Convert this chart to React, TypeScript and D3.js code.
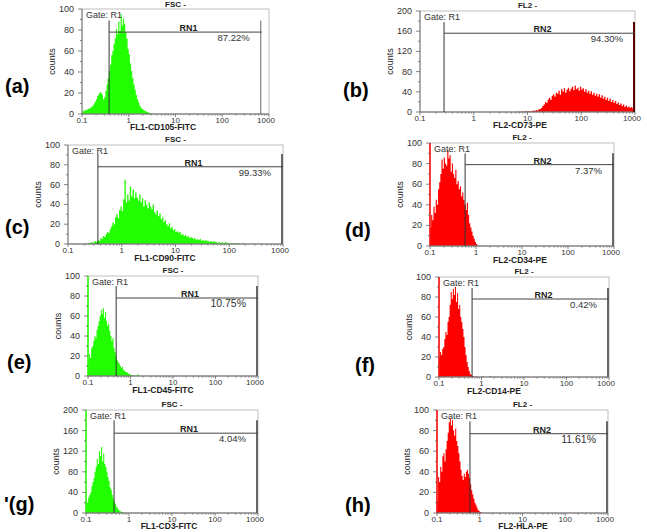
import React, { useEffect, useRef } from "react";
import * as d3 from "d3";

// panel data, order a..h
const panelTags = ["(a)", "(b)", "(c)", "(d)", "(e)", "(f)", "'(g)", "(h)"];
const channelTitles = ["FSC  -", "FL2  -", "FSC  -", "FL2  -", "FSC  -", "FL2  -", "FSC  -", "FL2  -"];
const markerLabels = [
  "FL1-CD105-FITC",
  "FL2-CD73-PE",
  "FL1-CD90-FITC",
  "FL2-CD34-PE",
  "FL1-CD45-FITC",
  "FL2-CD14-PE",
  "FL1-CD3-FITC",
  "FL2-HLA-PE",
];
const regionNames = ["RN1", "RN2", "RN1", "RN2", "RN1", "RN2", "RN1", "RN2"];
const percentLabels = ["87.22%", "94.30%", "99.33%", "7.37%", "10.75%", "0.42%", "4.04%", "11.61%"];
const yMaxes = [100, 200, 100, 100, 100, 100, 200, 100];
const gateLow = [0.38, 0.28, 0.36, 0.58, 0.46, 0.6, 0.45, 0.59];
const gateHigh = [700, 1000, 1000, 1000, 1000, 1000, 1000, 1000];
const gateLineY = [78, 156, 78, 79, 78, 78, 155, 77];
const gateTopY = [89, 178, 91, 90, 90, 89, 180, 89];
const xTicks = [0.1, 1, 10, 100, 1000];
const xTickLabels = ["0.1", "1", "10", "100", "1000"];

// histogram counts, bins of 1/40 decade starting at binStart (log10)
const binStart = [-1.0, 0.8, -0.7, -1.0, -1.0, -1.0, -1.0, -1.0];
const countsA = [
  2, 3, 3, 4, 4, 5, 5, 6, 7, 8,
  10, 12, 14, 17, 19, 21, 20, 18,
  14, 16, 22, 28,
  34, 41, 47, 56, 60, 67,
  72, 81, 76, 88, 79, 95, 84, 91,
  86, 78, 72, 62, 57, 48, 41, 34,
  28, 23, 18, 14, 11, 8, 6, 5,
  4, 3, 3, 2, 2, 1, 1, 1, 0, 1, 0, 0,
];
const countsB = [
  0, 1, 0, 1, 1, 0, 2, 1,
  1, 2, 1, 2, 3, 2, 4, 3, 5, 6,
  8, 12, 15, 20, 18, 25, 28, 24, 32, 35,
  30, 38, 36, 42, 34, 45, 40, 47, 38, 44,
  48, 41, 46, 50, 43, 52, 45, 48, 42, 50,
  44, 47, 40, 45, 38, 42, 36, 41, 34, 38,
  32, 36, 30, 35, 28, 33, 26, 30, 24, 28,
  22, 26, 20, 24, 18, 22, 16, 19, 14, 17,
  12, 15, 10, 13, 9, 11, 8, 10, 7, 6,
];
const countsC = [
  0, 1, 0, 1, 1, 2, 1, 2, 3, 2,
  4, 3, 6, 5, 8, 7, 10, 12, 11, 15,
  18, 22, 20, 27, 30, 26, 34, 38, 33, 45,
  65, 42, 50, 44, 58, 48, 55, 46, 52, 47,
  44, 50, 42, 46, 38, 44, 40, 36, 42, 38,
  35, 40, 32, 30, 34, 28, 31, 25, 27, 22,
  24, 20, 18, 21, 16, 17, 14, 15, 12, 13,
  11, 12, 9, 10, 8, 9, 7, 8, 6, 7,
  6, 5, 6, 4, 5, 4, 5, 3, 4, 3,
  4, 3, 3, 2, 3, 2, 3, 2, 2, 1,
  2, 1, 2, 1, 1, 2, 1, 1, 0, 1,
  1, 0, 1, 1, 0, 1, 0, 0, 1, 0, 0, 0, 0, 0,
];
const countsD = [
  18, 30, 25, 38, 32, 45, 40, 55, 62, 70,
  84, 75, 86, 80, 78, 93, 85, 88, 72, 80,
  70, 66, 74, 60, 63, 55, 58, 48, 52, 45,
  40, 35, 42, 30, 22, 18, 14, 10, 7, 4, 2, 1,
];
const countsE = [
  15, 22, 18, 28, 30, 35, 40, 38, 46, 50,
  55, 60, 66, 62, 68, 58, 64, 55, 50, 52,
  45, 40, 35, 38, 28, 24, 20, 16, 14, 12,
  10, 8, 9, 6, 5, 4, 4, 3, 2, 2, 1, 1, 1, 0, 0, 1, 0, 2, 0, 0,
];
const countsF = [
  20, 25, 22, 28, 30, 38, 45, 42, 55, 60,
  72, 85, 78, 88, 82, 90, 75, 84, 68, 72,
  60, 55, 48, 40, 30, 22, 15, 10, 6, 3, 2, 1,
  1, 0, 0, 1, 0, 0, 0, 0, 0, 1, 0, 0, 0, 0, 0, 0, 1, 0, 0, 0,
];
const countsG = [
  25, 20, 30, 35, 40, 52, 60, 68, 80, 90,
  105, 95, 120, 110, 128, 100, 115, 95, 90, 80,
  70, 62, 50, 45, 35, 28, 22, 18, 12, 9,
  6, 4, 3, 2, 1, 1, 0, 0, 0, 0,
];
const countsH = [
  12, 35, 30, 45, 40, 55, 58, 50, 62, 70,
  78, 88, 92, 85, 90, 80, 75, 82, 70, 65,
  58, 50, 42, 36, 32, 38, 35, 40, 42, 38,
  34, 28, 22, 18, 14, 10, 8, 5, 3, 2, 1, 1,
];
const allCounts = [countsA, countsB, countsC, countsD, countsE, countsF, countsG, countsH];
const BIN_STEP = 0.025;

// placement of each panel on the page
const layout = [
  { l: 82, t: 9, r: 269, b: 114, tagX: 5, tagY: 93, xLabX: 163, xLabY: 130, color: "#22ff00", edge: false },
  { l: 420, t: 11, r: 635, b: 112, tagX: 343, tagY: 97, xLabX: 520, xLabY: 128, color: "#ff0000", edge: false },
  { l: 68, t: 145, r: 283, b: 244, tagX: 5, tagY: 234, xLabX: 165, xLabY: 261, color: "#22ff00", edge: false },
  { l: 430, t: 143, r: 614, b: 246, tagX: 345, tagY: 237, xLabX: 520, xLabY: 263, color: "#ff0000", edge: true },
  { l: 88, t: 276, r: 258, b: 376, tagX: 7, tagY: 369, xLabX: 163, xLabY: 393, color: "#22ff00", edge: true },
  { l: 439, t: 277, r: 609, b: 377, tagX: 355, tagY: 372, xLabX: 494, xLabY: 394, color: "#ff0000", edge: true },
  { l: 86, t: 410, r: 258, b: 513, tagX: 4, tagY: 511, xLabX: 169, xLabY: 529, color: "#22ff00", edge: true },
  { l: 437, t: 410, r: 608, b: 513, tagX: 345, tagY: 512, xLabX: 523, xLabY: 529, color: "#ff0000", edge: true },
];

const FONT = "Liberation Sans, Arial, sans-serif";

export default function App() {
  const ref = useRef<SVGSVGElement>(null);

  useEffect(() => {
    const svg = d3.select(ref.current);
    svg.selectAll("*").remove();
    svg.append("rect").attr("width", 647).attr("height", 532).attr("fill", "#fff");

    layout.forEach((p, i) => {
      const g = svg.append("g");
      const x = d3.scaleLog().domain([0.1, 1000]).range([p.l, p.r]);
      const y = d3.scaleLinear().domain([0, yMaxes[i]]).range([p.b, p.t]);

      const clipId = `clip-${i}`;
      svg
        .append("clipPath")
        .attr("id", clipId)
        .append("rect")
        .attr("x", p.l)
        .attr("y", p.t)
        .attr("width", p.r - p.l)
        .attr("height", p.b - p.t);

      // histogram
      const counts = allCounts[i];
      const pts = counts.map((c, k) => [Math.pow(10, binStart[i] + k * BIN_STEP), c] as [number, number]);
      pts.push([Math.pow(10, binStart[i] + counts.length * BIN_STEP), 0]);
      const area = d3
        .area<[number, number]>()
        .x((d) => x(d[0]))
        .y0(y(0))
        .y1((d) => y(d[1]))
        .curve(d3.curveStepAfter);
      g.append("path")
        .datum(pts)
        .attr("d", area)
        .attr("fill", p.color)
        .attr("clip-path", `url(#${clipId})`);

      // frame
      g.append("rect")
        .attr("x", p.l)
        .attr("y", p.t)
        .attr("width", p.r - p.l)
        .attr("height", p.b - p.t)
        .attr("fill", "none")
        .attr("stroke", "#b0b0b0")
        .attr("stroke-width", 0.8);
      g.append("line")
        .attr("x1", p.l)
        .attr("x2", p.l)
        .attr("y1", p.t)
        .attr("y2", p.b)
        .attr("stroke", p.edge ? p.color : "#777")
        .attr("stroke-width", p.edge ? 1.5 : 1);
      g.append("line")
        .attr("x1", p.l)
        .attr("x2", p.r)
        .attr("y1", p.b)
        .attr("y2", p.b)
        .attr("stroke", "#666")
        .attr("stroke-width", 1);

      // y ticks
      const yStep = yMaxes[i] / 5;
      d3.range(0, yMaxes[i] + 0.1, yStep / 2).forEach((v, k) => {
        const major = k % 2 === 0;
        g.append("line")
          .attr("x1", p.l - (major ? 4 : 2))
          .attr("x2", p.l)
          .attr("y1", y(v))
          .attr("y2", y(v))
          .attr("stroke", "#666")
          .attr("stroke-width", 0.8);
        if (major) {
          g.append("text")
            .attr("x", p.l - 8)
            .attr("y", y(v) + 3)
            .attr("text-anchor", "end")
            .attr("font-family", FONT)
            .attr("font-size", 9)
            .attr("fill", "#333")
            .text(String(v));
        }
      });

      // x ticks
      xTicks.forEach((t, k) => {
        g.append("line")
          .attr("x1", x(t))
          .attr("x2", x(t))
          .attr("y1", p.b)
          .attr("y2", p.b + 3)
          .attr("stroke", "#666")
          .attr("stroke-width", 0.8);
        if (k < xTicks.length - 1) {
          d3.range(2, 10).forEach((m) => {
            g.append("line")
              .attr("x1", x(t * m))
              .attr("x2", x(t * m))
              .attr("y1", p.b)
              .attr("y2", p.b + 2)
              .attr("stroke", "#777")
              .attr("stroke-width", 0.6);
          });
        }
        g.append("text")
          .attr("x", k === xTicks.length - 1 ? x(t) - 3 : x(t))
          .attr("y", p.b + 8.5)
          .attr("text-anchor", "middle")
          .attr("font-family", FONT)
          .attr("font-size", 8)
          .attr("fill", "#333")
          .text(xTickLabels[k]);
      });

      // axis titles
      g.append("text")
        .attr("x", (p.l + p.r) / 2)
        .attr("y", Math.max(p.t - 3, 7))
        .attr("text-anchor", "middle")
        .attr("font-family", FONT)
        .attr("font-size", 8)
        .attr("font-weight", "bold")
        .attr("fill", "#222")
        .text(channelTitles[i]);
      g.append("text")
        .attr("x", p.xLabX)
        .attr("y", p.xLabY)
        .attr("text-anchor", "middle")
        .attr("font-family", FONT)
        .attr("font-size", 8.5)
        .attr("font-weight", "bold")
        .attr("fill", "#222")
        .text(markerLabels[i]);
      g.append("text")
        .attr("transform", `translate(${p.l - 27},${(p.t + p.b) / 2}) rotate(-90)`)
        .attr("text-anchor", "middle")
        .attr("font-family", FONT)
        .attr("font-size", 9)
        .attr("fill", "#222")
        .text("counts");
      g.append("text")
        .attr("x", p.l + 4)
        .attr("y", p.t + 9)
        .attr("font-family", FONT)
        .attr("font-size", 9)
        .attr("fill", "#333")
        .text("Gate: R1");

      // gate marker
      const gx0 = x(gateLow[i]);
      const gx1 = x(gateHigh[i]);
      const gy = y(gateLineY[i]);
      const gTop = y(gateTopY[i]);
      g.append("line")
        .attr("x1", gx0)
        .attr("x2", gx0)
        .attr("y1", gTop)
        .attr("y2", p.b)
        .attr("stroke", "#333")
        .attr("stroke-width", 1);
      g.append("line")
        .attr("x1", gx1 - 1)
        .attr("x2", gx1 - 1)
        .attr("y1", gTop)
        .attr("y2", p.b)
        .attr("stroke", i === 1 ? "#5a0000" : "#666")
        .attr("stroke-width", i === 0 ? 1 : 2);
      g.append("line")
        .attr("x1", gx0)
        .attr("x2", gx1)
        .attr("y1", gy)
        .attr("y2", gy)
        .attr("stroke", "#444")
        .attr("stroke-width", 1);
      g.append("text")
        .attr("x", (gx0 + gx1) / 2 + 3)
        .attr("y", gy - 1)
        .attr("text-anchor", "middle")
        .attr("font-family", FONT)
        .attr("font-size", 9)
        .attr("font-weight", "bold")
        .attr("fill", "#222")
        .text(regionNames[i]);
      g.append("text")
        .attr("x", gx1 - 12)
        .attr("y", gy + 9)
        .attr("text-anchor", "end")
        .attr("font-family", FONT)
        .attr("font-size", i === 4 || i === 7 ? 10.5 : 9.5)
        .attr("fill", "#333")
        .text(percentLabels[i]);

      // panel tag
      g.append("text")
        .attr("x", p.tagX)
        .attr("y", p.tagY)
        .attr("font-family", FONT)
        .attr("font-size", 20)
        .attr("font-weight", "bold")
        .attr("fill", "#000")
        .text(panelTags[i]);
    });
  }, []);

  return (
    <svg
      ref={ref}
      width={647}
      height={532}
      style={{ position: "absolute", left: 0, top: 0 }}
    />
  );
}
